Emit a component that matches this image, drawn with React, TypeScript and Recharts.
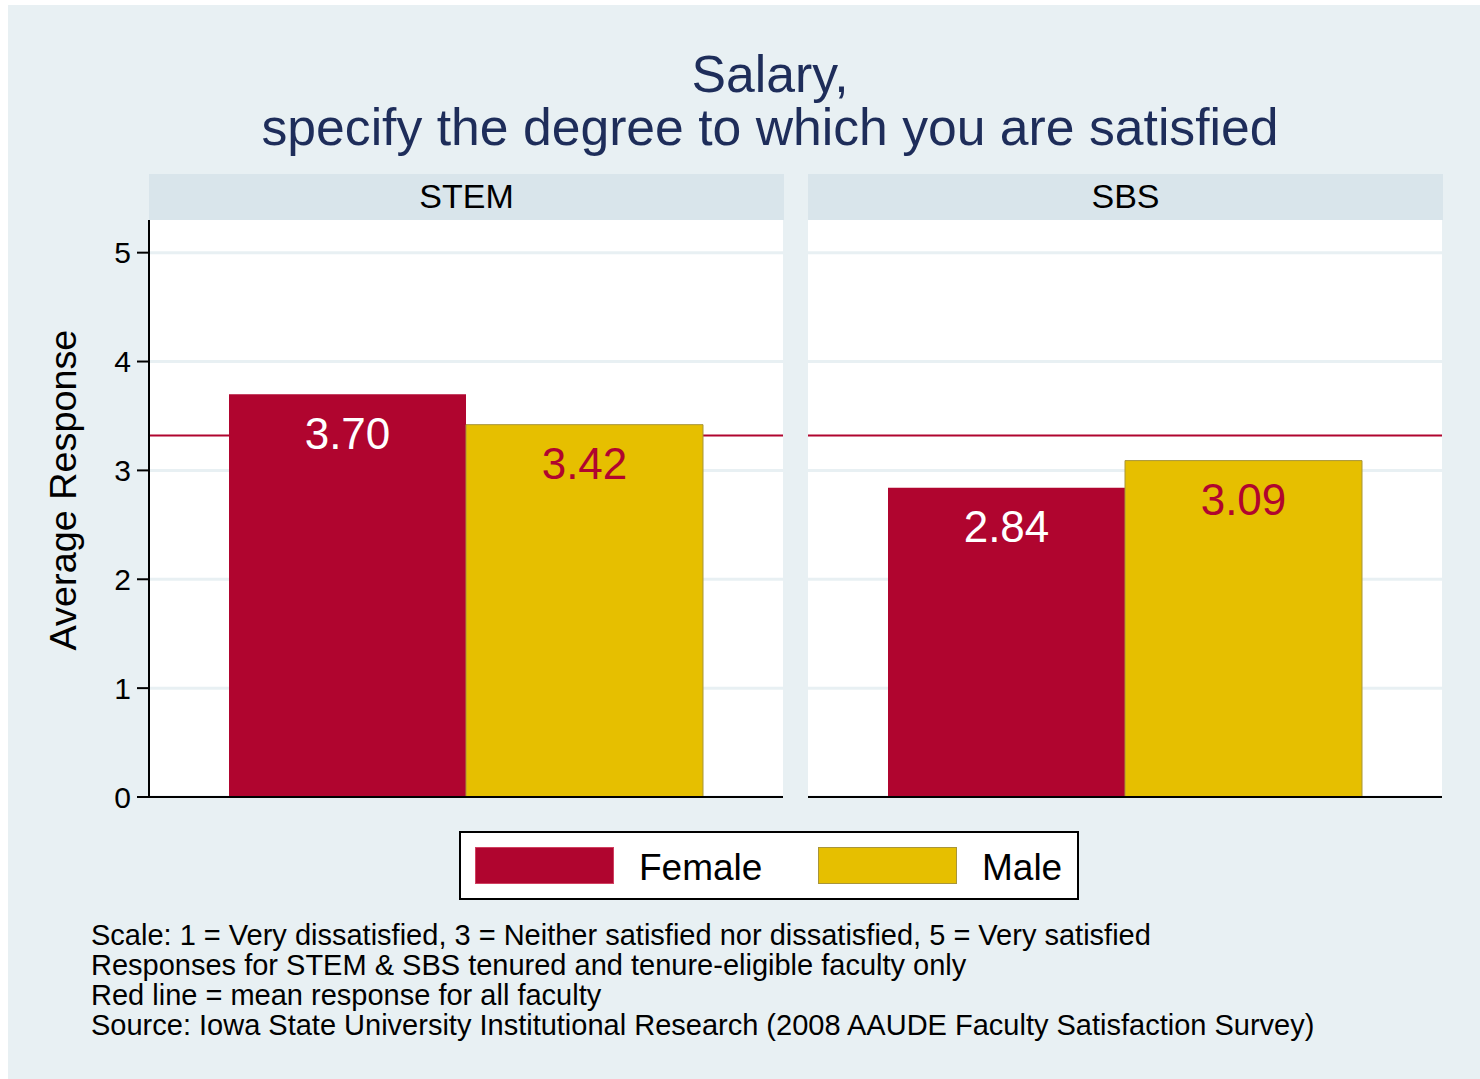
import React from 'react'
import {
  BarChart,
  Bar,
  XAxis,
  YAxis,
  CartesianGrid,
  ReferenceLine,
  LabelList,
} from 'recharts'

// data
const panels = ['STEM', 'SBS']
const femaleMeans = [3.7, 2.84]
const maleMeans = [3.42, 3.09]
const allFacultyMean = 3.32
const yTicks = [0, 1, 2, 3, 4, 5]
const titleLines = ['Salary,', 'specify the degree to which you are satisfied']
const notes = [
  'Scale: 1 = Very dissatisfied, 3 = Neither satisfied nor dissatisfied, 5 = Very satisfied',
  'Responses for STEM & SBS tenured and tenure-eligible faculty only',
  'Red line = mean response for all faculty',
  'Source: Iowa State University Institutional Research (2008 AAUDE Faculty Satisfaction Survey)',
]

const FONT = '"Liberation Sans", Arial, Helvetica, sans-serif'
const BG = '#E8F0F3'
const STRIP = '#D9E5EB'
const RED = '#B0052F'
const GOLD = '#E6BF00'
const NAVY = '#1E2D5A'

// everything positioned relative to the grey background (page offset 8,5)
const OX = 8
const OY = 5

const makeLabel = (color: string) => (props: any) => {
  const { x, y, width, value } = props
  return (
    <text
      x={x + width / 2}
      y={y + 39}
      fill={color}
      fontSize={44}
      fontFamily={FONT}
      textAnchor="middle"
      dominantBaseline="central"
    >
      {Number(value).toFixed(2)}
    </text>
  )
}

const Panel = ({ index, showAxis }: { index: number; showAxis: boolean }) => {
  const data = [
    { name: panels[index], female: femaleMeans[index], male: maleMeans[index] },
  ]
  const axisW = showAxis ? 59 : 0
  return (
    <BarChart
      width={634 + axisW}
      height={607}
      data={data}
      margin={{ top: 10, right: 0, bottom: 20, left: 0 }}
      barCategoryGap={80}
      barGap={0}
    >
      <CartesianGrid
        vertical={false}
        horizontalValues={yTicks}
        stroke={BG}
        strokeWidth={3}
        fill="#fff"
        fillOpacity={1}
      />
      {/* mean for all faculty: a second grid layer so the bars cover it */}
      <CartesianGrid
        vertical={false}
        horizontalValues={[allFacultyMean]}
        stroke={RED}
        strokeWidth={2}
      />
      <XAxis dataKey="name" hide />
      <YAxis
        hide={!showAxis}
        width={axisW}
        domain={[0, 5.3]}
        ticks={yTicks}
        allowDataOverflow
        axisLine={{ stroke: '#000', strokeWidth: 2 }}
        tickLine={{ stroke: '#000', strokeWidth: 2 }}
        tickSize={12}
        tickMargin={6}
        tick={{ fill: '#000', fontSize: 30, fontFamily: FONT }}
      />
      <Bar dataKey="female" fill={RED} isAnimationActive={false}>
        <LabelList dataKey="female" content={makeLabel('#fff')} />
      </Bar>
      <Bar
        dataKey="male"
        fill={GOLD}
        stroke="#A8953A"
        strokeWidth={1}
        isAnimationActive={false}
      >
        <LabelList dataKey="male" content={makeLabel(RED)} />
      </Bar>
      <ReferenceLine y={0} stroke="#000" strokeWidth={2} />
    </BarChart>
  )
}

const Strip = ({ left, text }: { left: number; text: string }) => (
  <div
    style={{
      position: 'absolute',
      left: left - OX,
      top: 174 - OY,
      width: 635,
      height: 46,
      background: STRIP,
      color: '#000',
      fontSize: 34,
      lineHeight: '44px',
      textAlign: 'center',
    }}
  >
    {text}
  </div>
)

const Swatch = ({ left, color, border, label }: { left: number; color: string; border: string; label: string }) => (
  <>
    <div
      style={{
        position: 'absolute',
        left: left - 461,
        top: 14,
        width: 139,
        height: 37,
        boxSizing: 'border-box',
        background: color,
        border: `1px solid ${border}`,
      }}
    />
    <div
      style={{
        position: 'absolute',
        left: left - 461 + 164,
        top: 15,
        height: 37,
        lineHeight: '40px',
        fontSize: 37,
        color: '#000',
      }}
    >
      {label}
    </div>
  </>
)

export default function App() {
  return (
    <div
      style={{
        position: 'absolute',
        left: OX,
        top: OY,
        width: 1472,
        height: 1074,
        background: BG,
        fontFamily: FONT,
        overflow: 'hidden',
      }}
    >
      {/* title */}
      <div
        style={{
          position: 'absolute',
          left: 0,
          top: 48 - OY,
          width: 1524,
          textAlign: 'center',
          fontSize: 51.7,
          lineHeight: '53px',
          color: NAVY,
        }}
      >
        {titleLines.map((t) => (
          <div key={t}>{t}</div>
        ))}
      </div>

      <Strip left={149} text={panels[0]} />
      <Strip left={808} text={panels[1]} />

      <div style={{ position: 'absolute', left: 90 - OX, top: 210 - OY }}>
        <Panel index={0} showAxis />
      </div>
      <div style={{ position: 'absolute', left: 808 - OX, top: 210 - OY }}>
        <Panel index={1} showAxis={false} />
      </div>

      {/* y axis title */}
      <div
        style={{
          position: 'absolute',
          left: 63 - OX - 200,
          top: 490 - OY - 20,
          width: 400,
          height: 40,
          lineHeight: '40px',
          textAlign: 'center',
          fontSize: 37.8,
          color: '#000',
          transform: 'rotate(-90deg)',
        }}
      >
        Average Response
      </div>

      {/* legend */}
      <div
        style={{
          position: 'absolute',
          left: 459 - OX,
          top: 831 - OY,
          width: 620,
          height: 69,
          boxSizing: 'border-box',
          border: '2px solid #000',
          background: '#fff',
        }}
      >
        <Swatch left={475} color={RED} border="#D04060" label="Female" />
        <Swatch left={818} color={GOLD} border="#A8953A" label="Male" />
      </div>

      {/* notes */}
      <div
        style={{
          position: 'absolute',
          left: 91 - OX,
          top: 920 - OY,
          fontSize: 29,
          lineHeight: '30px',
          color: '#000',
          whiteSpace: 'nowrap',
        }}
      >
        {notes.map((n) => (
          <div key={n}>{n}</div>
        ))}
      </div>
    </div>
  )
}
